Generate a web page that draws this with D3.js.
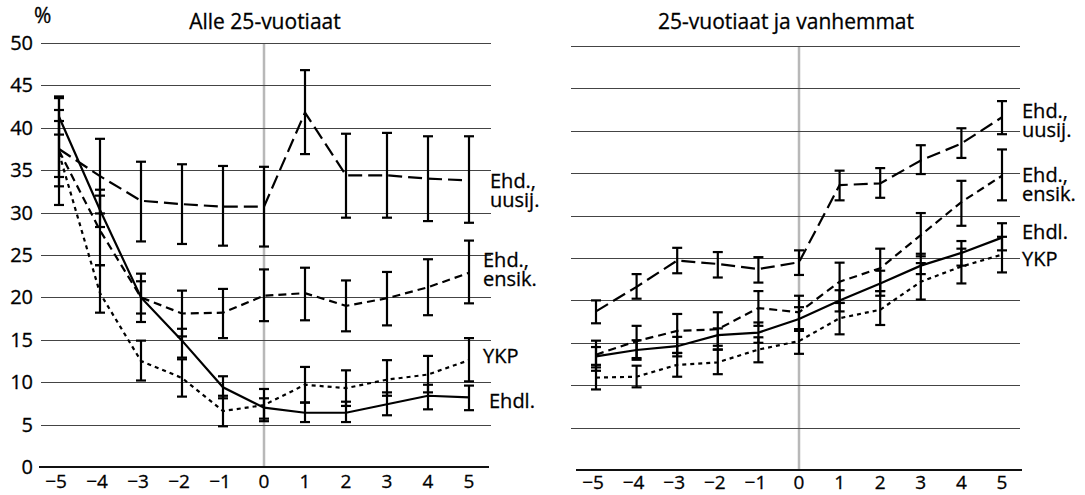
<!DOCTYPE html>
<html><head><meta charset="utf-8">
<script src="https://cdn.jsdelivr.net/npm/d3@7"></script>
<style>body{margin:0;background:#fff}svg{display:block;font-family:"Open Sans",sans-serif}
text{fill:#000;stroke:#000;stroke-width:0.3px}</style>
</head><body><svg id="c" width="1085" height="495"></svg>
<script>
// ---- data ----
const years = [-5,-4,-3,-2,-1,0,1,2,3,4,5];
const yTicks = [0,5,10,15,20,25,30,35,40,45,50];
const xTickLabels = ["\u22125","\u22124","\u22123","\u22122","\u22121","0","1","2","3","4","5"];
const panelTitles = ["Alle 25-vuotiaat","25-vuotiaat ja vanhemmat"];

// Alle 25-vuotiaat
const youngUusij   = [37.5,34.3,31.4,31.0,30.7,30.7,41.8,34.4,34.4,34.0,33.8];
const youngUusijLo = [30.9,29.9,26.6,26.3,26.1,26.0,36.9,29.4,29.4,29.0,28.8];
const youngUusijHi = [43.7,38.7,36.0,35.7,35.5,35.4,46.8,39.3,39.4,39.0,39.0];
const youngEnsik   = [37.3,27.9,20.0,18.1,18.2,20.2,20.5,19.0,19.9,21.2,22.9];
const youngEnsikLo = [33.1,23.8,17.1,15.4,15.2,17.2,17.3,16.0,16.7,17.9,19.3];
const youngEnsikHi = [42.1,32.0,22.8,20.8,21.0,23.3,23.5,22.0,23.0,24.5,26.7];
const youngYkp     = [37.0,20.5,12.5,10.5,6.6,7.3,9.7,9.3,10.3,10.9,12.6];
const youngYkpLo   = [34.2,18.2,10.2,8.3,4.8,5.4,7.6,7.2,8.4,8.8,10.1];
const youngYkpHi   = [40.8,23.8,14.9,12.7,8.4,9.2,11.8,11.4,12.6,13.1,15.2];
const youngEhdl    = [41.3,30.3,20.0,14.9,9.4,7.0,6.4,6.4,7.4,8.4,8.2];
const youngEhdlLo  = [39.2,28.3,18.1,12.9,8.1,5.7,5.3,5.3,6.1,6.8,6.7];
const youngEhdlHi  = [43.5,32.7,21.9,16.3,10.7,8.1,7.6,7.7,8.8,9.7,9.6];

// 25-vuotiaat ja vanhemmat
const olderUusij   = [18.7,21.6,24.7,24.3,23.7,24.5,33.6,33.8,36.5,38.5,41.6];
const olderUusijLo = [17.3,20.2,23.2,22.7,22.1,23.0,31.8,32.1,34.9,36.8,39.6];
const olderUusijHi = [20.0,23.1,26.2,25.7,25.1,25.9,35.3,35.6,38.3,40.3,43.5];
const olderEnsik   = [13.6,15.2,16.4,16.6,19.1,18.6,22.2,23.8,27.7,31.6,34.7];
const olderEnsikLo = [12.1,13.0,13.8,14.65,17.0,16.6,19.7,21.1,25.2,28.8,31.8];
const olderEnsikHi = [15.25,17.0,18.4,18.6,21.1,20.55,24.45,26.1,30.3,34.1,37.8];
const olderYkp     = [10.9,11.0,12.4,12.7,14.2,15.2,17.9,18.9,22.2,24.0,25.4];
const olderYkpLo   = [9.5,9.75,11.0,11.3,12.7,13.7,16.0,17.1,20.1,22.0,23.3];
const olderYkpHi   = [12.4,12.3,13.8,14.2,15.65,16.6,19.7,21.1,24.4,26.1,27.5];
const olderEhdl    = [13.4,14.15,14.6,15.9,16.2,17.8,20.0,22.0,24.1,25.6,27.4];
const olderEhdlLo  = [11.7,13.2,13.4,14.2,15.0,16.4,18.7,20.55,23.1,24.1,25.9];
const olderEhdlHi  = [14.5,15.3,15.7,16.7,17.4,19.2,21.2,23.5,25.5,27.0,29.1];

const seriesNames = ["Ehd., uusij.","Ehd., ensik.","YKP","Ehdl."];

// ---- layout / style ----
const dashes = ["14,6","8,5","4,4",null];
const svg = d3.select("#c");

const panels = [
  {title: panelTitles[0], titleX: 265, xr:[59,469], yr:[467,43], grid:[41,491], axis:[39,489], yLabels:true, tickDy:21,
   series:[[youngUusij,youngUusijLo,youngUusijHi],[youngEnsik,youngEnsikLo,youngEnsikHi],[youngYkp,youngYkpLo,youngYkpHi],[youngEhdl,youngEhdlLo,youngEhdlHi]],
   labels:[{lines:["Ehd.,","uusij."],x:490,y:188},{lines:["Ehd.,","ensik."],x:483,y:267},{lines:["YKP"],x:483,y:363},{lines:["Ehdl."],x:489,y:408}]},
  {title: panelTitles[1], titleX: 786, xr:[596,1002], yr:[470,46], grid:[571,1020], axis:[576,1022], yLabels:false, tickDy:19,
   series:[[olderUusij,olderUusijLo,olderUusijHi],[olderEnsik,olderEnsikLo,olderEnsikHi],[olderYkp,olderYkpLo,olderYkpHi],[olderEhdl,olderEhdlLo,olderEhdlHi]],
   labels:[{lines:["Ehd.,","uusij."],x:1022,y:118},{lines:["Ehd.,","ensik."],x:1022,y:182},{lines:["Ehdl."],x:1022,y:239},{lines:["YKP"],x:1022,y:266}]}
];

svg.append("text").attr("x",34).attr("y",23).attr("font-size",21).text("%");

panels.forEach(p=>{
  const x = d3.scaleLinear().domain([-5,5]).range(p.xr);
  const y = d3.scaleLinear().domain([0,50]).range(p.yr);
  const g = svg.append("g");
  // zero-year vertical line
  g.append("line").attr("x1",x(0)).attr("x2",x(0)).attr("y1",y(50)).attr("y2",y(0))
    .attr("stroke","#b8b8b8").attr("stroke-width",2.5);
  // gridlines
  g.selectAll(".grid").data(yTicks.filter(t=>t>0)).join("line")
    .attr("x1",p.grid[0]).attr("x2",p.grid[1]).attr("y1",d=>Math.round(y(d))+0.5).attr("y2",d=>Math.round(y(d))+0.5)
    .attr("stroke","#444").attr("stroke-width",1.2);
  // x axis
  g.append("line").attr("x1",p.axis[0]).attr("x2",p.axis[1]).attr("y1",y(0)).attr("y2",y(0))
    .attr("stroke","#111").attr("stroke-width",2);
  // y labels
  if(p.yLabels){
    g.selectAll(".yl").data(yTicks).join("text")
      .attr("x",33).attr("y",d=>y(d)).attr("dy","0.35em").attr("text-anchor","end")
      .attr("font-size",20).text(d=>d);
  }
  // x labels
  g.selectAll(".xl").data(years).join("text")
    .attr("x",(d,i)=>x(d)-(d<0?3:0)).attr("y",y(0)+p.tickDy).attr("text-anchor","middle")
    .attr("font-size",19).text((d,i)=>xTickLabels[i]);
  // title
  g.append("text").attr("x",p.titleX).attr("y",29).attr("text-anchor","middle")
    .attr("font-size",21).text(p.title);
  // series lines
  const line = d3.line().x((d,i)=>x(years[i])).y(d=>y(d));
  p.series.forEach((s,k)=>{
    const path = g.append("path").datum(s[0]).attr("d",line).attr("fill","none")
      .attr("stroke","#000").attr("stroke-width",2.2);
    if(dashes[k]) path.attr("stroke-dasharray",dashes[k]);
  });
  // error bars
  p.series.forEach((s,k)=>{
    const eb = g.append("g").attr("stroke","#000").attr("stroke-width",2.2);
    years.forEach((yr,i)=>{
      const xx = x(yr);
      eb.append("line").attr("x1",xx).attr("x2",xx).attr("y1",y(s[1][i])).attr("y2",y(s[2][i]));
      eb.append("line").attr("x1",xx-5).attr("x2",xx+5).attr("y1",y(s[1][i])).attr("y2",y(s[1][i]));
      eb.append("line").attr("x1",xx-5).attr("x2",xx+5).attr("y1",y(s[2][i])).attr("y2",y(s[2][i]));
    });
  });
  // series labels (one text per line)
  p.labels.forEach(l=>{
    l.lines.forEach((ln,j)=>g.append("text").attr("x",l.x).attr("y",l.y+j*19).attr("font-size",20).text(ln));
  });
});
</script></body></html>
